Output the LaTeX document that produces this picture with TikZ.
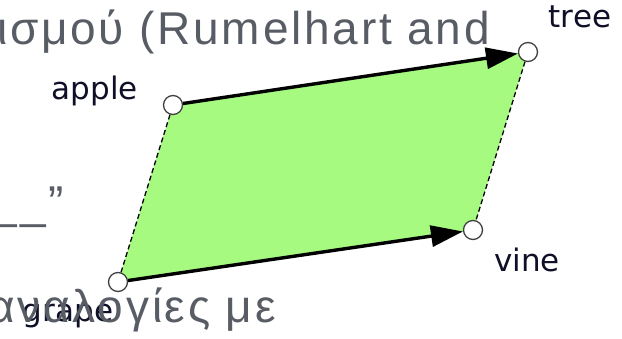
\documentclass[tikz,border=0pt]{standalone}
\usepackage{fontspec}
\setmainfont{Liberation Sans}
\newfontfamily\labelfont{DejaVu Sans}
\newfontfamily\slidefont[LetterSpace=6]{Liberation Sans}
\usetikzlibrary{arrows.meta,backgrounds}
\definecolor{leafgreen}{RGB}{166,250,128}
\definecolor{slidegray}{RGB}{88,92,100}
\definecolor{wordink}{RGB}{15,15,40}
\tikzset{
  pt/.style={circle,draw=black!75,line width=1.3pt,fill=white,minimum size=19pt,inner sep=0pt},
  word/.style={font=\labelfont\fontsize{31}{31}\selectfont,text=wordink,inner sep=0pt,anchor=base},
  vec/.style={line width=3.4pt,-{Triangle[length=32pt,width=21pt]}},
  side/.style={line width=1.3pt,dash pattern=on 5pt off 3pt},
  slide/.style={font=\slidefont\fontsize{46}{46}\selectfont,text=slidegray,inner sep=0pt,anchor=base east}
}
\begin{document}
\begin{tikzpicture}[x=1pt,y=-1pt]
	\useasboundingbox (0,0) rectangle (622,339);
	\clip (0,0) rectangle (622,339);
	% the four words as corners
	\node[pt] (apple) at (173,105) {};
	\node[pt] (tree) at (528,52) {};
	\node[pt] (vine) at (473,230) {};
	\node[pt] (grape) at (118,282) {};
	\begin{scope}[on background layer]
		\fill[leafgreen] (apple.center) -- (tree.center) -- (vine.center) -- (grape.center) -- cycle;
	\end{scope}
	\draw[side] (apple) -- (grape);
	\draw[side] (tree) -- (vine);
	\draw[vec] (apple) -- (tree);
	\draw[vec] (grape) -- (vine);
	\node[word] (appleword) at (95,100) {apple};
	\node[word] (treeword) at (580,28) {tree};
	\node[word] (vineword) at (527,272) {vine};
	\node[word] (grapeword) at (68,322) {grape};
	% slide text behind the figure
	\node[slide] (topline) at (490,45) {ισμού (Rumelhart and};
	\node[slide] (midline) at (64,219) {\_\_\_”};
	\node[slide] (lowline) at (276,323) {αναλογίες με};
\end{tikzpicture}
\end{document}
